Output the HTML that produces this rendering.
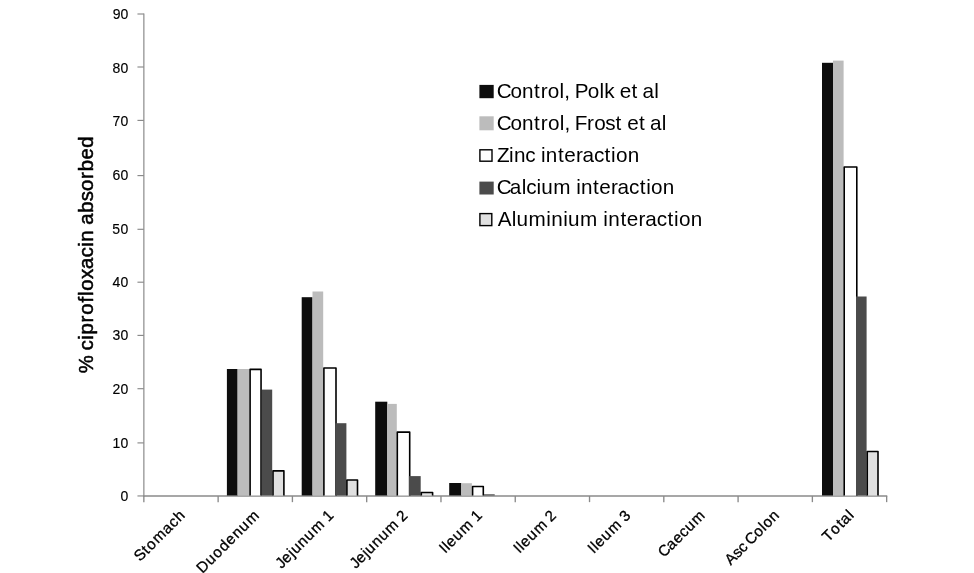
<!DOCTYPE html>
<html lang="en">
<head>
<meta charset="utf-8">
<title>Ciprofloxacin absorbed by intestinal segment</title>
<style>
html,body{margin:0;padding:0;background:#fff;}
body{width:974px;height:573px;overflow:hidden;}
svg{display:block;}
text{font-family:"Liberation Sans",sans-serif;fill:#000;stroke-linejoin:round;}
.tk{font-size:14.0px;stroke:#000;stroke-width:0.15px;}
.xl{font-size:15.2px;stroke:#000;stroke-width:0.3px;}
.lg{font-size:20.7px;}
.yt{font-size:20.3px;stroke:#000;stroke-width:0.5px;}
</style>
</head>
<body>
<svg width="974" height="573" viewBox="0 0 974 573">
<rect x="0" y="0" width="974" height="573" fill="#fff"/>
<g stroke="#8a8a8a" stroke-width="1.35" fill="none">
<line x1="143.85" y1="13.40" x2="143.85" y2="496.55" stroke="#989898"/>
<line x1="143.25" y1="495.95" x2="887.25" y2="495.95"/>
<line x1="137.45" y1="14.00" x2="143.85" y2="14.00" stroke-width="1.15"/>
<line x1="137.45" y1="67.00" x2="143.85" y2="67.00" stroke-width="1.15"/>
<line x1="137.45" y1="120.40" x2="143.85" y2="120.40" stroke-width="1.15"/>
<line x1="137.45" y1="175.60" x2="143.85" y2="175.60" stroke-width="1.15"/>
<line x1="137.45" y1="229.30" x2="143.85" y2="229.30" stroke-width="1.15"/>
<line x1="137.45" y1="282.20" x2="143.85" y2="282.20" stroke-width="1.15"/>
<line x1="137.45" y1="335.40" x2="143.85" y2="335.40" stroke-width="1.15"/>
<line x1="137.45" y1="388.70" x2="143.85" y2="388.70" stroke-width="1.15"/>
<line x1="137.45" y1="442.90" x2="143.85" y2="442.90" stroke-width="1.15"/>
<line x1="137.45" y1="495.95" x2="143.85" y2="495.95" stroke-width="1.15"/>
<line x1="143.85" y1="495.95" x2="143.85" y2="502.15"/>
<line x1="218.13" y1="495.95" x2="218.13" y2="502.15"/>
<line x1="292.41" y1="495.95" x2="292.41" y2="502.15"/>
<line x1="366.69" y1="495.95" x2="366.69" y2="502.15"/>
<line x1="440.97" y1="495.95" x2="440.97" y2="502.15"/>
<line x1="515.25" y1="495.95" x2="515.25" y2="502.15"/>
<line x1="589.53" y1="495.95" x2="589.53" y2="502.15"/>
<line x1="663.81" y1="495.95" x2="663.81" y2="502.15"/>
<line x1="738.09" y1="495.95" x2="738.09" y2="502.15"/>
<line x1="812.37" y1="495.95" x2="812.37" y2="502.15"/>
<line x1="886.65" y1="495.95" x2="886.65" y2="502.15"/>
</g>
<g>
<rect x="226.90" y="369.00" width="10.70" height="126.45" fill="#0d0d0d"/>
<rect x="237.60" y="369.00" width="11.90" height="126.45" fill="#bcbcbc"/>
<rect x="250.10" y="369.35" width="10.95" height="126.05" fill="#ffffff"/>
<path d="M250.10 495.55V369.35H261.05V495.55" fill="none" stroke="#000" stroke-width="1.6" stroke-linejoin="round"/>
<rect x="261.90" y="389.60" width="10.30" height="105.85" fill="#4b4b4b"/>
<rect x="273.00" y="470.85" width="10.90" height="24.55" fill="#e0e0e0"/>
<path d="M273.00 495.55V470.85H283.90V495.55" fill="none" stroke="#000" stroke-width="1.6" stroke-linejoin="round"/>
<rect x="301.70" y="297.20" width="10.80" height="198.25" fill="#0d0d0d"/>
<rect x="312.50" y="291.50" width="10.70" height="203.95" fill="#bcbcbc"/>
<rect x="323.90" y="368.05" width="12.10" height="127.35" fill="#ffffff"/>
<path d="M323.90 495.55V368.05H336.00V495.55" fill="none" stroke="#000" stroke-width="1.6" stroke-linejoin="round"/>
<rect x="335.20" y="423.20" width="11.20" height="72.25" fill="#4b4b4b"/>
<rect x="346.90" y="479.95" width="10.60" height="15.45" fill="#e0e0e0"/>
<path d="M346.90 495.55V479.95H357.50V495.55" fill="none" stroke="#000" stroke-width="1.6" stroke-linejoin="round"/>
<rect x="375.20" y="401.70" width="12.10" height="93.75" fill="#0d0d0d"/>
<rect x="387.30" y="403.90" width="9.50" height="91.55" fill="#bcbcbc"/>
<rect x="397.30" y="432.15" width="12.40" height="63.25" fill="#ffffff"/>
<path d="M397.30 495.55V432.15H409.70V495.55" fill="none" stroke="#000" stroke-width="1.6" stroke-linejoin="round"/>
<rect x="408.90" y="476.10" width="11.80" height="19.35" fill="#4b4b4b"/>
<rect x="421.30" y="492.55" width="11.30" height="2.85" fill="#e0e0e0"/>
<path d="M421.30 495.55V492.55H432.60V495.55" fill="none" stroke="#000" stroke-width="1.6" stroke-linejoin="round"/>
<rect x="449.20" y="483.00" width="12.10" height="12.45" fill="#0d0d0d"/>
<rect x="461.30" y="483.20" width="10.60" height="12.25" fill="#bcbcbc"/>
<rect x="472.60" y="486.45" width="10.70" height="8.95" fill="#ffffff"/>
<path d="M472.60 495.55V486.45H483.30V495.55" fill="none" stroke="#000" stroke-width="1.6" stroke-linejoin="round"/>
<rect x="483.90" y="494.30" width="10.80" height="1.15" fill="#4b4b4b"/>
<rect x="822.00" y="62.80" width="11.00" height="432.65" fill="#0d0d0d"/>
<rect x="833.00" y="60.60" width="10.60" height="434.85" fill="#bcbcbc"/>
<rect x="844.20" y="167.05" width="12.60" height="328.35" fill="#ffffff"/>
<path d="M844.20 495.55V167.05H856.80V495.55" fill="none" stroke="#000" stroke-width="1.6" stroke-linejoin="round"/>
<rect x="856.00" y="296.50" width="10.60" height="198.95" fill="#4b4b4b"/>
<rect x="867.25" y="451.45" width="10.75" height="43.95" fill="#e0e0e0"/>
<path d="M867.25 495.55V451.45H878.00V495.55" fill="none" stroke="#000" stroke-width="1.6" stroke-linejoin="round"/>
</g>
<g>
<text class="tk" x="112.7 120.57" y="19.4">90</text>
<text class="tk" x="112.46 120.57" y="72.9">80</text>
<text class="tk" x="112.58 120.57" y="125.9">70</text>
<text class="tk" x="112.49 120.57" y="180">60</text>
<text class="tk" x="112.36 120.57" y="233.6">50</text>
<text class="tk" x="112.51 120.57" y="286.7">40</text>
<text class="tk" x="112.56 120.57" y="340">30</text>
<text class="tk" x="112.48 120.57" y="393.9">20</text>
<text class="tk" x="112.6 120.57" y="448.3">10</text>
<text class="tk" x="120.57" y="501.15">0</text>
</g>
<g>
<text class="xl" transform="translate(185.39 516.80) rotate(-45)" x="-64.09 -53.58 -48.28 -38.61 -25.22 -16.07 -7.83" y="0">Stomach</text>
<text class="xl" transform="translate(259.67 516.80) rotate(-45)" x="-80.89 -69.13 -59.62 -50.23 -40.82 -31.49 -22.09 -12.34" y="0">Duodenum</text>
<text class="xl" transform="translate(333.95 516.80) rotate(-45)" x="-74.08 -66.68 -57.57 -53.49 -44.09 -34.81 -25.18 -11.68 -7.83" y="0">Jejunum 1</text>
<text class="xl" transform="translate(408.23 516.80) rotate(-45)" x="-74.13 -66.73 -57.63 -53.55 -44.16 -34.89 -25.27 -11.78 -8.02" y="0">Jejunum 2</text>
<text class="xl" transform="translate(482.51 516.80) rotate(-45)" x="-52.68 -47.98 -44.08 -34.91 -25.24 -11.7 -7.83" y="0">Ileum 1</text>
<text class="xl" transform="translate(556.79 516.80) rotate(-45)" x="-52.72 -48.03 -44.14 -34.98 -25.32 -11.8 -8.02" y="0">Ileum 2</text>
<text class="xl" transform="translate(631.07 516.80) rotate(-45)" x="-52.8 -48.11 -44.21 -35.04 -25.38 -11.84 -8" y="0">Ileum 3</text>
<text class="xl" transform="translate(705.35 516.80) rotate(-45)" x="-58.43 -47.89 -38.72 -29.93 -21.88 -12.34" y="0">Caecum</text>
<text class="xl" transform="translate(779.63 516.80) rotate(-45)" x="-69.13 -58.98 -51.53 -43.94 -40.9 -29.97 -20.93 -16.98 -7.82" y="0">Asc Colon</text>
<text class="xl" transform="translate(853.91 516.80) rotate(-45)" x="-36.18 -26.31 -16.65 -11.89 -2.47" y="0">Total</text>
</g>
<text class="yt" transform="translate(93.20 254.65) rotate(-90)" x="-118.7 -100.91 -95.5 -85.06 -79.8 -67.74 -60.15 -47.97 -41.39 -36.2 -24.34 -14.31 -2.64 7.8 13.03 24.6 29.8 41.98 53.4 63.64 75.77 83.42 95.18 106.91" y="0">% ciprofloxacin absorbed</text>
<g>
<rect x="479.40" y="84.90" width="14.30" height="13.30" fill="#0d0d0d"/>
<text class="lg" x="496.65 510.39 522.07 534.05 540.63 547.87 559.6 564.32 569.78 574.72 587.81 599.54 604.15 614.3 619.73 631.55 637.66 642.55 654.35" y="98">Control, Polk et al</text>
<rect x="479.40" y="116.30" width="14.30" height="14.00" fill="#bcbcbc"/>
<text class="lg" x="496.65 510.41 522.11 534.11 540.69 547.95 559.69 564.42 569.89 574.71 586.9 594.15 605.31 615.59 621.7 627.14 638.98 645.09 649.99 661.81" y="130">Control, Frost et al</text>
<rect x="479.90" y="149.80" width="12.10" height="11.40" fill="#ffffff" stroke="#000" stroke-width="1.4"/>
<text class="lg" x="497.04 509 513.91 525.25 535.19 540.92 545.83 557.91 564.17 575.88 582.46 593.93 604.55 611.06 615.94 627.72" y="161.6">Zinc interaction</text>
<rect x="479.40" y="181.60" width="14.30" height="12.90" fill="#4b4b4b"/>
<text class="lg" x="496.65 509.76 521.64 526.15 536.43 541.25 553.16 570.41 576.13 581.03 593.09 599.34 611.04 617.6 629.05 639.65 646.16 651.03 662.79" y="194.4">Calcium interaction</text>
<rect x="479.90" y="213.60" width="11.90" height="12.00" fill="#e0e0e0" stroke="#000" stroke-width="1.4"/>
<text class="lg" x="497.79 511.69 516.55 528.58 546.37 551.31 563.18 568.04 580.07 597.5 603.28 608.22 620.4 626.71 638.52 645.16 656.73 667.43 674 678.92 690.8" y="226.1">Aluminium interaction</text>
</g>
</svg>
</body>
</html>
